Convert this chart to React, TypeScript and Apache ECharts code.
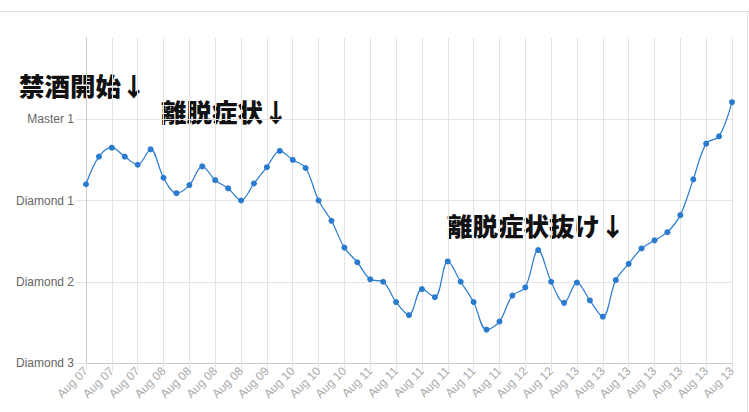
import React, { useEffect, useRef } from "react";
import * as echarts from "echarts";

const dates: string[] = [
  "Aug 07", "Aug 07", "Aug 07", "Aug 07", "Aug 07", "Aug 08", "Aug 08", "Aug 08", "Aug 08", "Aug 08",
  "Aug 08", "Aug 08", "Aug 08", "Aug 09", "Aug 09", "Aug 09", "Aug 10", "Aug 10", "Aug 10", "Aug 10",
  "Aug 10", "Aug 11", "Aug 11", "Aug 11", "Aug 11", "Aug 11", "Aug 11", "Aug 11", "Aug 11", "Aug 11",
  "Aug 11", "Aug 11", "Aug 11", "Aug 12", "Aug 12", "Aug 12", "Aug 12", "Aug 13", "Aug 13", "Aug 13",
  "Aug 13", "Aug 13", "Aug 13", "Aug 13", "Aug 13", "Aug 13", "Aug 13", "Aug 13", "Aug 13", "Aug 13",
  "Aug 13",
];

const rankValues: number[] = [
  2.2, 2.54, 2.65, 2.54, 2.44, 2.63, 2.28, 2.09, 2.19, 2.42,
  2.25, 2.15, 2.0, 2.21, 2.41, 2.61, 2.5, 2.4, 2.0, 1.75,
  1.42, 1.24, 1.03, 1.0, 0.75, 0.59, 0.91, 0.81, 1.25, 1.0,
  0.75, 0.41, 0.51, 0.83, 0.93, 1.39, 1.0, 0.74, 0.99, 0.77,
  0.57, 1.02, 1.22, 1.41, 1.51, 1.61, 1.82, 2.26, 2.7, 2.79,
  3.21,
];

const rankLabels: string[] = ["Diamond 3", "Diamond 2", "Diamond 1", "Master 1"];

const notes: { text: string; left: number; top: number }[] = [
  { text: "禁酒開始↓", left: 19, top: 72 },
  { text: "離脱症状↓", left: 161, top: 98 },
  { text: "離脱症状抜け↓", left: 447, top: 212 },
];

export default function App() {
  const ref = useRef<HTMLDivElement>(null);
  useEffect(() => {
    if (!ref.current) return;
    const chart = echarts.init(ref.current, undefined, { renderer: "svg" });
    chart.setOption({
      animation: false,
      grid: { left: 86, right: 17, top: 38, bottom: 49 },
      xAxis: {
        type: "category",
        data: dates,
        boundaryGap: false,
        axisLine: { show: true, lineStyle: { color: "#c9c9c9", width: 1 } },
        axisTick: { show: true, interval: 1, length: 8, lineStyle: { color: "#e4e4e4" } },
        splitLine: { show: true, interval: 1, lineStyle: { color: "#e4e4e4", width: 1 } },
        axisLabel: {
          interval: 1,
          rotate: 45,
          margin: 6,
          color: "#aaaaaa",
          fontSize: 12,
          fontFamily: "Liberation Sans, Arial, sans-serif",
        },
      },
      yAxis: {
        type: "value",
        min: 0,
        max: 4,
        interval: 1,
        axisLine: { show: true, lineStyle: { color: "#c9c9c9", width: 1 } },
        axisTick: { show: true, length: 10, lineStyle: { color: "#e4e4e4" } },
        splitLine: { show: true, showMaxLine: false, lineStyle: { color: "#e4e4e4", width: 1 } },
        axisLabel: {
          showMaxLabel: false,
          margin: 12,
          color: "#666666",
          fontSize: 12,
          fontFamily: "Liberation Sans, Arial, sans-serif",
          formatter: (v: number) => rankLabels[Math.round(v)] ?? "",
        },
      },
      series: [
        {
          type: "line",
          data: rankValues,
          smooth: 0.35,
          symbol: "circle",
          symbolSize: 6,
          itemStyle: { color: "#2a7bd0" },
          lineStyle: { color: "#2a7bd0", width: 1.2 },
        },
      ],
      graphic: [
        {
          type: "line",
          shape: { x1: 0, y1: 11.5, x2: 749, y2: 11.5 },
          style: { stroke: "#e2e2e2", lineWidth: 1 },
          silent: true,
        },
        {
          type: "line",
          shape: { x1: 747.5, y1: 11, x2: 747.5, y2: 412 },
          style: { stroke: "#e2e2e2", lineWidth: 1 },
          silent: true,
        },
        ...notes.map((n) => ({
          type: "text",
          left: n.left,
          top: n.top,
          style: {
            text: n.text,
            fill: "#111111",
            font: "900 25.5px 'Noto Sans CJK JP', sans-serif",
          },
        })),
      ],
    });
    return () => chart.dispose();
  }, []);
  return (
    <div
      ref={ref}
      style={{ position: "fixed", left: 0, top: 0, width: 749, height: 412, background: "#fff" }}
    />
  );
}
